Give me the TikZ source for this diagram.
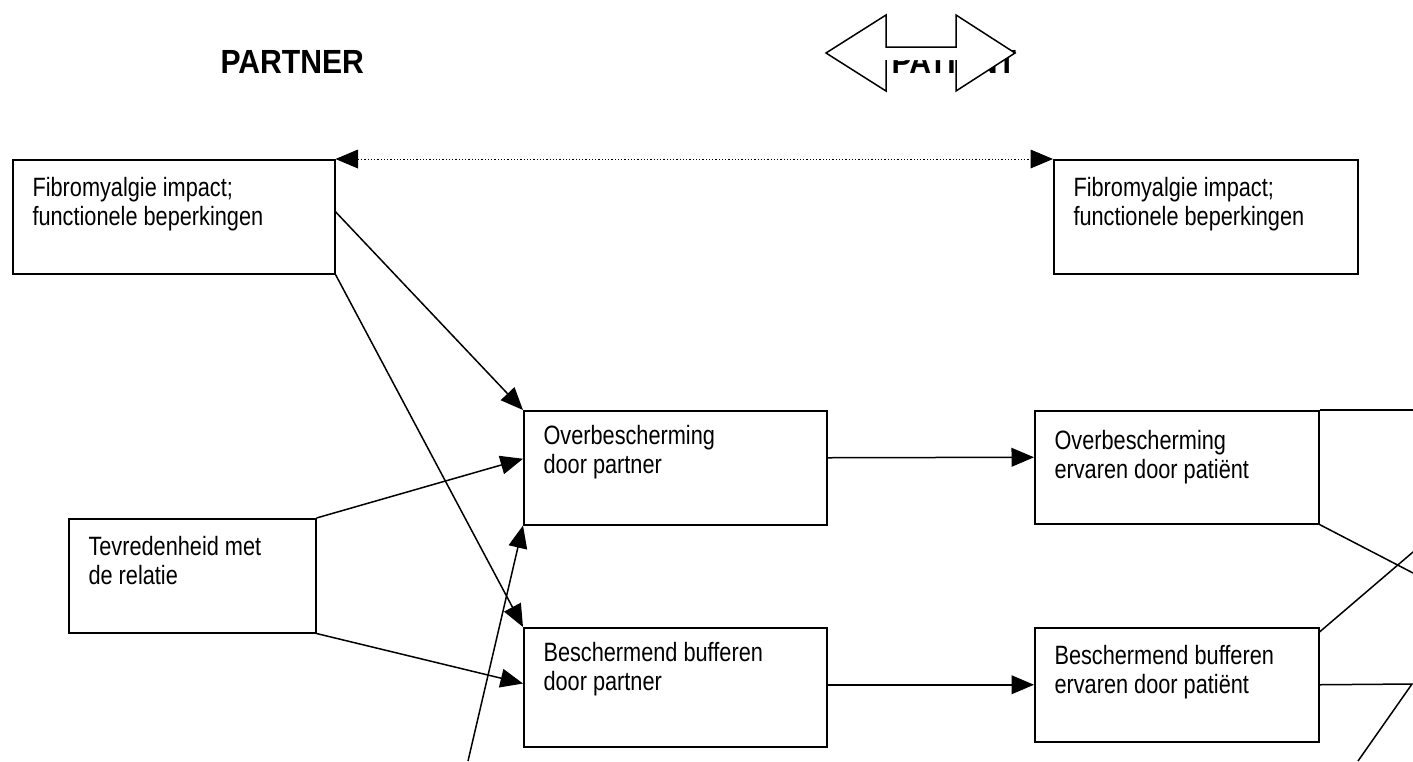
\documentclass[tikz,border=0pt]{standalone}
\usepackage{fontspec}
\setmainfont{Liberation Sans}[FakeStretch=0.82]
\newfontfamily\headfont{Liberation Sans}[FakeStretch=0.9]
\usetikzlibrary{arrows.meta}
\begin{document}
\begin{tikzpicture}[x=0.4pt,y=-0.4pt,
  box/.style={draw=black,line width=0.6pt,rectangle,anchor=north west,inner sep=0pt},
  boxtext/.style={anchor=north west,align=left,inner xsep=8pt,inner ysep=7pt,font=\fontsize{10.6}{11.7}\selectfont},
  head/.style={anchor=base west,inner sep=0pt,font=\headfont\bfseries\fontsize{13.4}{16}\selectfont},
  link/.style={draw=black,line width=0.6pt,-{Triangle[length=9pt,width=7.5pt]}},
  plain/.style={draw=black,line width=0.6pt}]
\useasboundingbox (0,0) rectangle (1413,761);
\node[head] (partner) at (220,73) {PARTNER};
\node[head] (patient) at (891,73) {PATIËNT};
\fill[white] (826,53) -- (886,15) -- (956,15) -- (1015,53) -- (956,91) -- (956,60) -- (886,60) -- (886,91) -- cycle;
\draw[black,line width=0.6pt] (886,60) -- (886,91) -- (826,53) -- (886,15) -- (886,47) -- (956,47) -- (956,15) -- (1015,53) -- (956,91) -- (956,60);
\node[box,minimum width=128.8pt,minimum height=45.6pt,
  label={[boxtext]north west:Fibromyalgie impact;\\functionele beperkingen}] (fa) at (12,159) {};
\node[box,minimum width=121.6pt,minimum height=45.6pt,
  label={[boxtext]north west:Fibromyalgie impact;\\functionele beperkingen}] (fb) at (1053,159) {};
\node[box,minimum width=98.8pt,minimum height=45.6pt,
  label={[boxtext]north west:Tevredenheid met\\de relatie}] (tv) at (68,518) {};
\node[box,minimum width=121.2pt,minimum height=45.6pt,
  label={[boxtext,yshift=1.2pt]north west:Overbescherming\\door partner}] (ob) at (523,410) {};
\node[box,minimum width=121.2pt,minimum height=47.6pt,
  label={[boxtext,yshift=1.2pt]north west:Beschermend bufferen\\door partner}] (bb) at (523,627) {};
\node[box,minimum width=113.6pt,minimum height=45.2pt,
  label={[boxtext,yshift=-1pt]north west:Overbescherming\\ervaren door patiënt}] (oe) at (1034,410) {};
\node[box,minimum width=113.6pt,minimum height=45.6pt,
  label={[boxtext]north west:Beschermend bufferen\\ervaren door patiënt}] (be) at (1034,627) {};
\draw[black,line width=0.4pt,dash pattern=on 0.5pt off 0.8pt,{Triangle[length=9pt,width=7.5pt]}-{Triangle[length=9pt,width=7.5pt]}] (fa.north east) -- (fb.north west);
\draw[link] ([yshift=2pt]fa.east) -- (ob.north west);
\draw[link] (fa.south east) -- (bb.north west);
\draw[link] (tv.north east) -- ([yshift=3.6pt]ob.west);
\draw[link] (tv.south east) -- ([yshift=1.5pt]bb.west);
\coordinate (low) at (468,761);
\draw[link] (low) -- (ob.south west);
\draw[link] ([yshift=4pt]ob.east) -- ([yshift=4pt]oe.west);
\draw[link] ([yshift=1pt]bb.east) -- (be.west);
\coordinate (r1) at (1413,410);
\coordinate (r2) at (1413,573);
\coordinate (r3) at (1413,552);
\coordinate (r4) at (1412,684);
\coordinate (r5) at (1358,761);
\draw[plain] (oe.north east) -- (r1);
\draw[plain] (oe.south east) -- (r2);
\draw[plain] ([yshift=-2pt]be.north east) -- (r3);
\draw[plain] (be.east) -- (r4) -- (r5);
\end{tikzpicture}
\end{document}
